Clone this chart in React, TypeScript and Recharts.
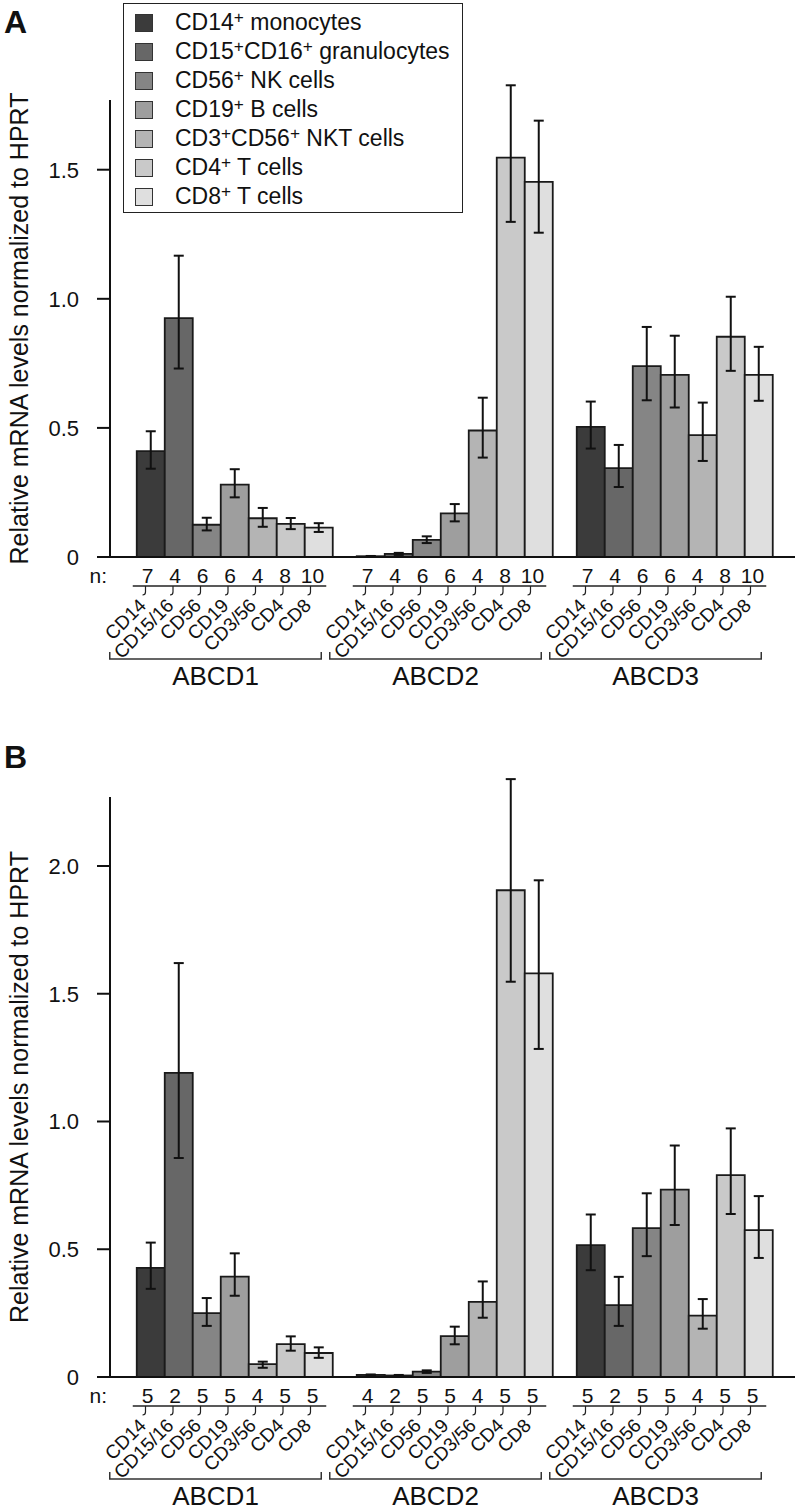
import React from 'react';
import { BarChart, Bar, XAxis, YAxis, ErrorBar, Legend } from 'recharts';

const FONT = '"Liberation Sans", Arial, Helvetica, sans-serif';

const genes = ['ABCD1', 'ABCD2', 'ABCD3'];
const cellKeys = ['cd14', 'cd15', 'cd56', 'cd19', 'cd356', 'cd4', 'cd8'];
const cellNames = [
  'CD14+ monocytes',
  'CD15+CD16+ granulocytes',
  'CD56+ NK cells',
  'CD19+ B cells',
  'CD3+CD56+ NKT cells',
  'CD4+ T cells',
  'CD8+ T cells',
];
const cellShort = ['CD14', 'CD15/16', 'CD56', 'CD19', 'CD3/56', 'CD4', 'CD8'];
const cellFills = ['#3b3b3b', '#676767', '#858585', '#9e9e9e', '#b4b4b4', '#c9c9c9', '#dfdfdf'];
const yLabel = 'Relative mRNA levels normalized to HPRT';

// panel A (rows = ABCD1..3, columns = cell types)
const aMean = [
  [0.41, 0.925, 0.125, 0.28, 0.15, 0.128, 0.114],
  [0.003, 0.012, 0.066, 0.169, 0.49, 1.547, 1.453],
  [0.504, 0.344, 0.739, 0.705, 0.472, 0.853, 0.705],
];
const aErrUp = [
  [0.077, 0.242, 0.027, 0.06, 0.04, 0.023, 0.017],
  [0.001, 0.004, 0.014, 0.036, 0.127, 0.28, 0.237],
  [0.098, 0.09, 0.152, 0.152, 0.126, 0.155, 0.109],
];
const aErrDown = [
  [0.068, 0.195, 0.022, 0.049, 0.033, 0.02, 0.017],
  [0.001, 0.004, 0.012, 0.031, 0.105, 0.249, 0.197],
  [0.084, 0.073, 0.132, 0.126, 0.1, 0.132, 0.1],
];
const aN = [
  [7, 4, 6, 6, 4, 8, 10],
  [7, 4, 6, 6, 4, 8, 10],
  [7, 4, 6, 6, 4, 8, 10],
];
const aTicks = [0, 0.5, 1, 1.5];
const aTop = 1.77;

// panel B
const bMean = [
  [0.427, 1.19, 0.25, 0.393, 0.05, 0.129, 0.094],
  [0.008, 0.006, 0.021, 0.16, 0.294, 1.905, 1.58],
  [0.516, 0.281, 0.583, 0.733, 0.24, 0.79, 0.575],
];
const bErrUp = [
  [0.099, 0.43, 0.059, 0.091, 0.01, 0.03, 0.022],
  [0.002, 0.002, 0.005, 0.037, 0.08, 0.435, 0.364],
  [0.12, 0.111, 0.136, 0.173, 0.065, 0.183, 0.133],
];
const bErrDown = [
  [0.082, 0.333, 0.05, 0.075, 0.014, 0.026, 0.019],
  [0.002, 0.002, 0.005, 0.032, 0.062, 0.358, 0.296],
  [0.098, 0.081, 0.11, 0.138, 0.051, 0.152, 0.109],
];
const bN = [
  [5, 2, 5, 5, 4, 5, 5],
  [4, 2, 5, 5, 4, 5, 5],
  [5, 2, 5, 5, 4, 5, 5],
];
const bTicks = [0, 0.5, 1, 1.5, 2];
const bTop = 2.27;

const W = 799;
const AXIS_X = 110;
const MARGIN_R = 4;
const PAD_L = 13;
const PAD_R = 12;
const BAR_W = (W - AXIS_X - MARGIN_R - PAD_L - PAD_R) / genes.length / (cellKeys.length + 1);

const buildRows = (mean: number[][], up: number[][], down: number[][]) =>
  genes.map((g, gi) => {
    const row: any = { gene: g };
    cellKeys.forEach((k, ci) => {
      row[k] = mean[gi][ci];
      row[k + 'Err'] = [down[gi][ci], up[gi][ci]];
    });
    return row;
  });

const fmt = (v: number) => (v === 0 ? '0' : v.toFixed(1));

const supLabel = (s: string) => {
  const parts = s.split('+');
  return parts.map((p, i) => (
    <React.Fragment key={i}>
      {p}
      {i < parts.length - 1 && <sup style={{ fontSize: '0.75em', verticalAlign: '0.42em', lineHeight: 0 }}>+</sup>}
    </React.Fragment>
  ));
};

const renderLegend = (props: any) => {
  // keep the series order, not the alphabetical one
  const items = [...(props.payload || [])].sort(
    (a: any, b: any) => cellNames.indexOf(a.value) - cellNames.indexOf(b.value)
  );
  return (
    <div
      style={{
        border: '1.5px solid #222',
        background: '#fff',
        padding: '4px 12px 1px 11px',
        fontFamily: FONT,
        fontSize: 23,
        color: '#111',
      }}
    >
      {items.map((e: any, i: number) => (
        <div key={i} style={{ display: 'flex', alignItems: 'center', height: 29 }}>
          <span
            style={{
              width: 18,
              height: 18,
              background: e.color,
              border: '1px solid #333',
              boxSizing: 'border-box',
              marginRight: 22,
              flex: 'none',
            }}
          />
          <span style={{ whiteSpace: 'nowrap', lineHeight: '29px' }}>{supLabel(e.value)}</span>
        </div>
      ))}
    </div>
  );
};

const GroupTick = (props: any) => {
  const { x, y, payload, counts } = props;
  const gi = genes.indexOf(payload.value);
  const start = x - (cellKeys.length / 2) * BAR_W;
  const end = x + (cellKeys.length / 2) * BAR_W;
  const centers = cellKeys.map((_, i) => start + (i + 0.5) * BAR_W);
  const bl = start - 27;
  const br = end - 8;
  return (
    <g fontFamily={FONT} fill="#111">
      {gi === 0 && (
        <text x={AXIS_X - 3} y={y + 26} textAnchor="end" fontSize={21}>
          n:
        </text>
      )}
      {counts[gi].map((c: number, i: number) => (
        <text key={'n' + i} x={centers[i] - 3} y={y + 26} textAnchor="middle" fontSize={21}>
          {c}
        </text>
      ))}
      <line x1={start - 4} x2={end - 3} y1={y + 29} y2={y + 29} stroke="#222" strokeWidth={1.5} />
      {centers.map((cx, i) => (
        <path
          key={'h' + i}
          d={`M${cx - 5},${y + 29} L${cx - 5},${y + 35} Q${cx - 5},${y + 38} ${cx - 8},${y + 38}`}
          fill="none"
          stroke="#222"
          strokeWidth={1.2}
        />
      ))}
      {cellShort.map((lab, i) => {
        const ax = centers[i] - 13;
        const ay = y + 40;
        return (
          <text
            key={'l' + i}
            x={ax}
            y={ay}
            dy="0.72em"
            textAnchor="end"
            fontSize={19}
            transform={`rotate(-45 ${ax} ${ay})`}
          >
            {lab}
          </text>
        );
      })}
      <path
        d={`M${bl},${y + 95} L${bl},${y + 102} L${br},${y + 102} L${br},${y + 95}`}
        fill="none"
        stroke="#333"
        strokeWidth={1.5}
      />
      <text x={(bl + br) / 2} y={y + 128} textAnchor="middle" fontSize={26}>
        {payload.value}
      </text>
    </g>
  );
};

const YLabel = (props: any) => {
  const vb = props.viewBox || {};
  const cy = (vb.y || 0) + (vb.height || 0) / 2;
  return (
    <text
      x={19}
      y={cy}
      transform={`rotate(-90 19 ${cy})`}
      textAnchor="middle"
      dominantBaseline="central"
      fontSize={25}
      fontFamily={FONT}
      fill="#111"
    >
      {yLabel}
    </text>
  );
};

interface PanelProps {
  mean: number[][];
  up: number[][];
  down: number[][];
  counts: number[][];
  ticks: number[];
  top: number;
  height: number;
  marginTop: number;
  axisHeight: number;
  legend?: boolean;
}

function Panel({ mean, up, down, counts, ticks, top, height, marginTop, axisHeight, legend }: PanelProps) {
  const rows = buildRows(mean, up, down);
  return (
    <BarChart
      width={W}
      height={height}
      data={rows}
      margin={{ top: marginTop, right: MARGIN_R, left: 0, bottom: 0 }}
      barGap={0}
      barCategoryGap={BAR_W / 2}
    >
      <XAxis
        dataKey="gene"
        interval={0}
        height={axisHeight}
        padding={{ left: PAD_L, right: PAD_R }}
        tickLine={false}
        tickSize={0}
        tickMargin={0}
        axisLine={{ stroke: '#111', strokeWidth: 2 }}
        tick={(p: any) => <GroupTick {...p} counts={counts} />}
      />
      <YAxis
        width={AXIS_X}
        domain={[0, top]}
        ticks={ticks}
        allowDataOverflow
        tickFormatter={fmt}
        tickSize={13}
        tickMargin={18}
        tick={{ fontSize: 22, fill: '#111', fontFamily: FONT }}
        axisLine={{ stroke: '#111', strokeWidth: 2 }}
        tickLine={{ stroke: '#111', strokeWidth: 2 }}
        label={{ content: (p: any) => <YLabel {...p} /> }}
      />
      {legend && (
        <Legend
          layout="vertical"
          align="center"
          verticalAlign="middle"
          content={renderLegend}
          wrapperStyle={{ left: 123, top: 3, width: 'auto', height: 'auto' }}
        />
      )}
      {cellKeys.map((k, i) => (
        <Bar
          key={k}
          dataKey={k}
          name={cellNames[i]}
          fill={cellFills[i]}
          stroke="#1a1a1a"
          strokeWidth={1.8}
          isAnimationActive={false}
        >
          <ErrorBar dataKey={k + 'Err'} width={5} stroke="#111" strokeWidth={2} direction="y" />
        </Bar>
      ))}
    </BarChart>
  );
}

const panelLetter = (t: string, top: number) => (
  <div
    style={{
      position: 'absolute',
      left: 4,
      top,
      fontFamily: FONT,
      fontWeight: 'bold',
      fontSize: 32,
      lineHeight: '32px',
      color: '#111',
    }}
  >
    {t}
  </div>
);

export default function App() {
  return (
    <div style={{ position: 'absolute', left: 0, top: 0, width: W, height: 1511, background: '#fff' }}>
      <div style={{ position: 'absolute', left: 0, top: 0 }}>
        <Panel
          mean={aMean}
          up={aErrUp}
          down={aErrDown}
          counts={aN}
          ticks={aTicks}
          top={aTop}
          height={720}
          marginTop={100}
          axisHeight={163}
          legend
        />
      </div>
      <div style={{ position: 'absolute', left: 0, top: 720 }}>
        <Panel
          mean={bMean}
          up={bErrUp}
          down={bErrDown}
          counts={bN}
          ticks={bTicks}
          top={bTop}
          height={791}
          marginTop={77}
          axisHeight={134}
        />
      </div>
      {panelLetter('A', 6)}
      {panelLetter('B', 741)}
    </div>
  );
}
